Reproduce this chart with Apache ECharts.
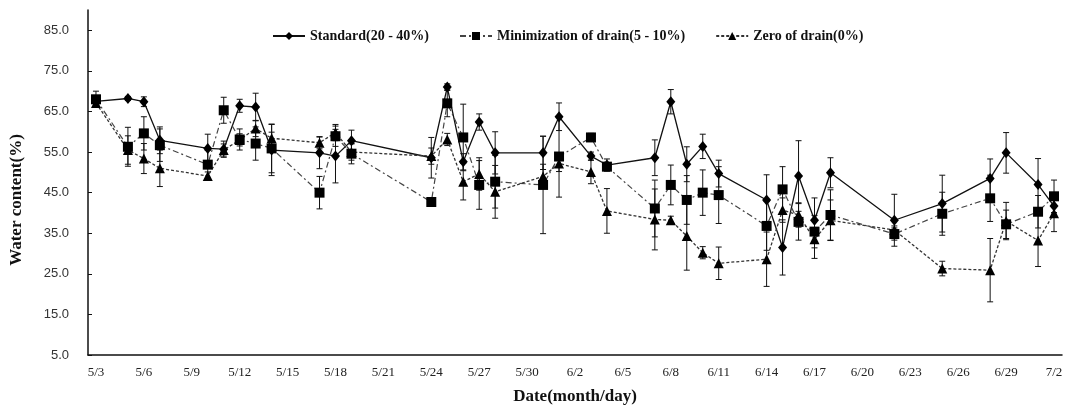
<!DOCTYPE html>
<html>
<head>
<meta charset="utf-8">
<script src="https://cdn.jsdelivr.net/npm/echarts@6/dist/echarts.min.js"></script>
<style>html,body{margin:0;padding:0;background:#fff}#c{width:1067px;height:405px}</style>
</head>
<body>
<div id="c"></div>
<script>
const categories = ['5/3','5/4','5/5','5/6','5/7','5/8','5/9','5/10','5/11','5/12','5/13','5/14','5/15','5/16','5/17','5/18','5/19','5/20','5/21','5/22','5/23','5/24','5/25','5/26','5/27','5/28','5/29','5/30','5/31','6/1','6/2','6/3','6/4','6/5','6/6','6/7','6/8','6/9','6/10','6/11','6/12','6/13','6/14','6/15','6/16','6/17','6/18','6/19','6/20','6/21','6/22','6/23','6/24','6/25','6/26','6/27','6/28','6/29','6/30','7/1','7/2'];
const sampleDates = ['5/3','5/5','5/6','5/7','5/10','5/11','5/12','5/13','5/14','5/17','5/18','5/19','5/24','5/25','5/26','5/27','5/28','5/31','6/1','6/3','6/4','6/7','6/8','6/9','6/10','6/11','6/14','6/15','6/16','6/17','6/18','6/22','6/25','6/28','6/29','7/1','7/2'];
const standard = [67.5,68.2,67.4,57.9,55.9,55.7,66.4,66.1,55.5,54.8,54.0,57.8,53.6,71.0,52.6,62.4,54.8,54.8,63.7,54.0,51.8,53.6,67.4,52.0,56.4,49.7,43.2,31.5,49.1,38.2,49.9,38.2,42.3,48.5,54.8,47.0,41.7];
const standardErr = [1.0,0.5,1.2,3.3,3.5,2.0,1.6,3.4,6.3,3.9,6.6,2.6,5.0,0.8,2.0,2.0,5.2,4.1,3.4,1.0,1.5,4.4,3.0,4.3,3.0,3.3,6.2,6.8,8.7,5.5,3.7,6.4,7.0,4.8,5.0,6.4,2.0];
const minimization = [68.0,56.3,59.6,56.7,51.9,65.3,58.1,57.1,55.9,45.0,58.9,54.6,42.7,67.0,58.6,46.9,47.7,46.9,53.9,58.6,51.4,41.1,46.9,43.2,45.0,44.4,36.8,45.8,37.8,35.4,39.5,34.8,39.8,43.6,37.2,40.3,44.1];
const minimizationErr = [2.0,4.8,4.1,4.0,3.5,3.2,2.6,4.1,6.0,4.0,2.5,2.5,0.3,3.3,8.2,6.0,6.5,12.0,10.0,1.0,1.0,7.0,4.9,6.0,5.6,7.0,6.0,5.6,4.5,4.0,6.2,1.5,5.3,5.7,3.5,4.0,4.0];
const zero = [67.1,55.5,53.4,51.0,49.1,55.5,58.0,60.8,58.4,57.3,59.8,55.0,54.0,58.1,47.7,49.6,45.2,49.0,52.2,50.1,40.5,38.4,38.2,34.3,30.2,27.6,28.6,40.7,39.5,33.5,38.2,35.8,26.3,25.9,38.0,33.2,39.9];
const zeroErr = [1.0,3.5,3.7,4.5,1.0,1.5,1.5,2.0,1.5,1.5,2.0,2.0,2.0,1.5,4.5,4.0,6.5,3.0,2.0,2.9,5.5,7.5,1.0,8.4,1.5,4.0,6.7,3.0,3.0,4.7,5.0,1.0,1.8,7.8,4.6,6.4,4.5];
const seriesNames = ['Standard(20 - 40%)','Minimization of drain(5 - 10%)','Zero of drain(0%)'];
const yTickMin = 5, yTickMax = 90, yTickStep = 10;

const serif = '"Liberation Serif","Times New Roman",serif';
const sans = '"Liberation Sans",Arial,sans-serif';

function pairs(vals){ return sampleDates.map((d,i)=>[d, vals[i]]); }
function errData(vals, errs){ return sampleDates.map((d,i)=>[d, vals[i]-errs[i], vals[i]+errs[i]]); }
function errSeries(vals, errs){
  return {
    type:'custom', z:2, silent:true,
    encode:{x:0, y:[1,2]},
    data: errData(vals, errs),
    renderItem: function(params, api){
      const lo = api.coord([api.value(0), api.value(1)]);
      const hi = api.coord([api.value(0), api.value(2)]);
      const w = 3;
      const st = {stroke:'#111', lineWidth:1};
      return {type:'group', children:[
        {type:'line', shape:{x1:lo[0],y1:lo[1],x2:hi[0],y2:hi[1]}, style:st},
        {type:'line', shape:{x1:lo[0]-w,y1:lo[1],x2:lo[0]+w,y2:lo[1]}, style:st},
        {type:'line', shape:{x1:hi[0]-w,y1:hi[1],x2:hi[0]+w,y2:hi[1]}, style:st}
      ]};
    }
  };
}

const chart = echarts.init(document.getElementById('c'));
chart.setOption({
  animation:false,
  backgroundColor:'#fff',
  grid:{left:88, right:5, top:10, bottom:50, containLabel:false, outerBoundsMode:'none'},
  legend:{
    data:seriesNames, left:267, top:24, itemWidth:32, itemHeight:10, itemGap:30,
    textStyle:{fontFamily:serif, fontWeight:'bold', fontSize:14, color:'#111'}
  },
  xAxis:{
    type:'category', data:categories, boundaryGap:true,
    axisLine:{lineStyle:{color:'#111', width:1.5}},
    axisTick:{inside:true, length:5, interval:2, lineStyle:{color:'#111'}},
    axisLabel:{interval:2, fontFamily:serif, fontSize:13, color:'#222', margin:11},
    name:'Date(month/day)', nameLocation:'middle', nameGap:33,
    nameTextStyle:{fontFamily:serif, fontWeight:'bold', fontSize:17, color:'#111'}
  },
  yAxis:{
    type:'value', min:yTickMin, max:yTickMax, interval:yTickStep,
    axisLine:{show:true, lineStyle:{color:'#111', width:1.5}},
    axisTick:{show:true, inside:true, length:4, lineStyle:{color:'#111'}},
    splitLine:{show:false},
    axisLabel:{showMaxLabel:false, fontFamily:sans, fontSize:13, color:'#333', margin:19,
      formatter:v=>v.toFixed(1)}
  },
  graphic:[{
    type:'text', x:17, y:200, rotation:Math.PI/2,
    style:{text:'Water content(%)', fontFamily:serif, fontWeight:'bold', fontSize:17, fill:'#111',
      textAlign:'center', textVerticalAlign:'middle'}
  }],
  series:[
    errSeries(standard, standardErr),
    errSeries(minimization, minimizationErr),
    errSeries(zero, zeroErr),
    {name:seriesNames[0], type:'line', z:3, data:pairs(standard), symbol:'diamond', symbolSize:[9,11],
      showAllSymbol:true,
      itemStyle:{color:'#000'}, lineStyle:{color:'#111', width:1.3, type:'solid'}},
    {name:seriesNames[1], type:'line', z:3, data:pairs(minimization), symbol:'rect', symbolSize:10,
      showAllSymbol:true,
      itemStyle:{color:'#000'}, lineStyle:{color:'#444', width:1.2, type:[6,3,2,3]}},
    {name:seriesNames[2], type:'line', z:3, data:pairs(zero), symbol:'triangle', symbolSize:10,
      showAllSymbol:true,
      itemStyle:{color:'#000'}, lineStyle:{color:'#333', width:1.3, type:[3,2]}}
  ]
});
</script>
</body>
</html>
